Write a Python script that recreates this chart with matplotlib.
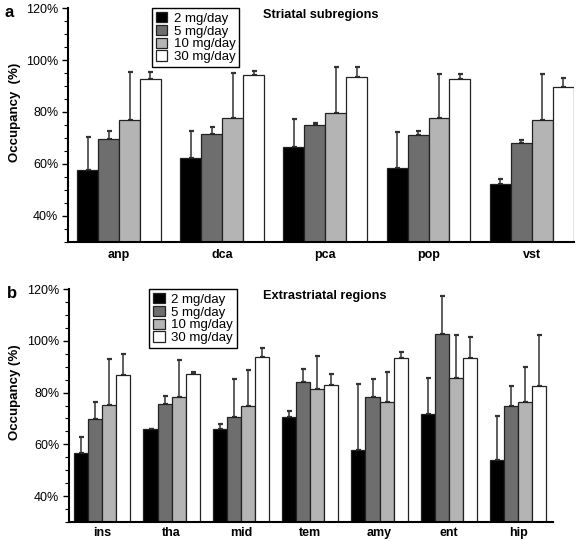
import numpy as np
import matplotlib.pyplot as plt
from matplotlib.ticker import MultipleLocator, FuncFormatter

plt.rcParams['font.family'] = ['Liberation Sans', 'DejaVu Sans']

doses = ['2 mg/day', '5 mg/day', '10 mg/day', '30 mg/day']
colors = ['#000000', '#6e6e6e', '#b4b4b4', '#ffffff']

# panel a: striatal subregions (mean %, upper error bar top %)
regions_a = ['anp', 'dca', 'pca', 'pop', 'vst']
mean_a = [
    [57.7, 62.2, 66.4, 58.6, 52.3],
    [69.6, 71.7, 75.0, 71.3, 67.9],
    [76.8, 77.7, 79.6, 77.7, 76.8],
    [92.6, 94.2, 93.5, 92.6, 89.6],
]
top_a = [
    [70.5, 72.6, 77.3, 72.2, 54.2],
    [72.6, 74.2, 75.9, 72.6, 69.2],
    [95.3, 94.9, 97.2, 94.7, 94.7],
    [95.3, 95.6, 97.2, 94.7, 92.9],
]

# panel b: extrastriatal regions
regions_b = ['ins', 'tha', 'mid', 'tem', 'amy', 'ent', 'hip']
mean_b = [
    [56.7, 65.8, 65.8, 70.6, 58.0, 71.6, 54.1],
    [69.9, 75.7, 70.4, 84.2, 78.3, 102.6, 75.0],
    [75.3, 78.3, 75.0, 81.4, 76.5, 85.6, 76.5],
    [86.7, 87.2, 93.7, 82.9, 93.4, 93.4, 82.4],
]
top_b = [
    [62.9, 66.1, 67.9, 72.8, 83.3, 85.8, 70.8],
    [76.2, 78.7, 85.1, 89.1, 85.1, 117.3, 82.4],
    [93.0, 92.7, 88.9, 94.3, 88.0, 102.1, 90.0],
    [95.0, 88.0, 97.1, 87.1, 95.5, 101.3, 102.1],
]

fig = plt.figure(figsize=(5.85, 5.41), dpi=100)
ax_a = fig.add_axes([0.1162, 0.5527, 0.865, 0.4325])
ax_b = fig.add_axes([0.1180, 0.0351, 0.827, 0.4307])

w = 0.203


def draw_panel(ax, regions, means, tops, xlim, title, ylabel,
               title_x, xpad, ylab_x):
    x = np.arange(len(regions))
    handles = []
    for i in range(4):
        m = np.array(means[i])
        t = np.array(tops[i])
        pos = x + (i - 1.5) * w
        b = ax.bar(pos, m - 30, w, bottom=30, color=colors[i],
                   edgecolor='#222222', linewidth=0.9, zorder=2)
        ax.errorbar(pos, m, yerr=[np.zeros_like(m), t - m], fmt='none',
                    ecolor='#333333', elinewidth=1.1, capsize=1.8,
                    capthick=1.6, zorder=1)
        handles.append(b)
    ax.set_xlim(*xlim)
    ax.set_ylim(30, 120)
    ax.set_xticks(x)
    ax.set_xticklabels(regions, fontweight='bold', fontsize=9)
    ax.tick_params(axis='x', length=0, pad=xpad)
    ax.yaxis.set_major_locator(MultipleLocator(20))
    ax.yaxis.set_minor_locator(MultipleLocator(5))
    ax.yaxis.set_major_formatter(FuncFormatter(
        lambda v, p: f'{v:.0f}%' if v >= 40 else ''))
    ax.tick_params(axis='y', which='major', length=4, width=1, labelsize=9, pad=3)
    ax.tick_params(axis='y', which='minor', length=3, width=0.8)
    for s in ['top', 'right']:
        ax.spines[s].set_visible(False)
    for s in ['left', 'bottom']:
        ax.spines[s].set_linewidth(1.5)
    ax.set_ylabel(ylabel, fontweight='bold', fontsize=9.5)
    ax.yaxis.set_label_coords(ylab_x, 0.556)
    leg = ax.legend(handles, doses, loc='upper left',
                    bbox_to_anchor=(0.166, 1.0), borderaxespad=0,
                    fontsize=9.5, handlelength=0.85, handleheight=0.85,
                    labelspacing=0.0, borderpad=0.3, handletextpad=0.5,
                    fancybox=False, framealpha=1)
    leg.get_frame().set_edgecolor('black')
    leg.get_frame().set_linewidth(1.0)
    ax.text(title_x, 0.995, title, transform=ax.transAxes, ha='left',
            va='top', fontweight='bold', fontsize=9.2)


draw_panel(ax_a, regions_a, mean_a, top_a, (-0.495, 4.41),
           'Striatal subregions', 'Occupancy  (%)', 0.385, 5, -0.093)
draw_panel(ax_b, regions_b, mean_b, top_b, (-0.48, 6.5),
           'Extrastriatal regions', 'Occupancy (%)', 0.40, 3.5, -0.099)

fig.text(0.008, 0.99, 'a', fontweight='bold', fontsize=12, va='top')
fig.text(0.012, 0.472, 'b', fontweight='bold', fontsize=12, va='top')

fig.savefig('out.png', dpi=100)
